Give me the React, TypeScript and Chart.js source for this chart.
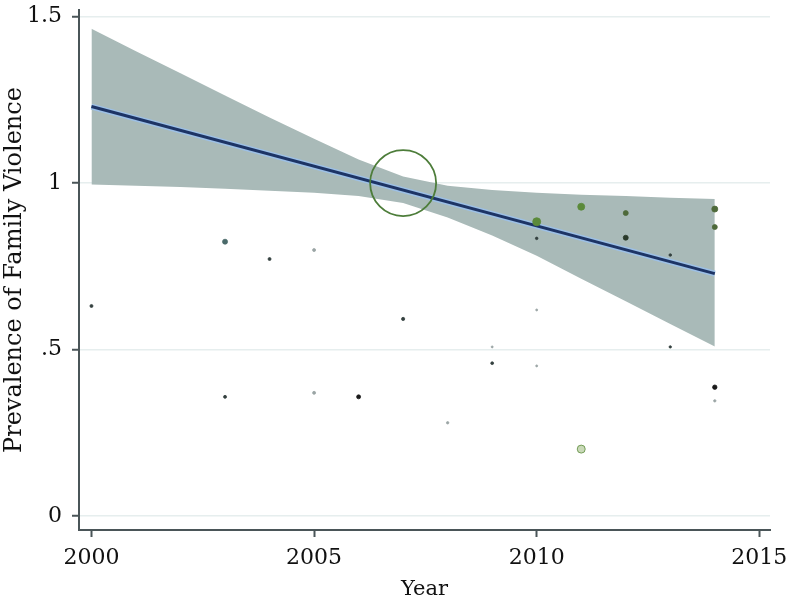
import React, { useEffect, useRef } from "react";
import { Chart, registerables } from "chart.js";

Chart.register(...registerables);

// ---- data ----
const pointYears = [2000, 2003, 2003, 2004, 2005, 2005, 2006, 2007, 2008, 2009, 2009, 2010, 2010, 2010, 2010, 2011, 2011, 2012, 2012, 2013, 2013, 2014, 2014, 2014, 2014];
const pointValues = [0.631, 0.824, 0.358, 0.772, 0.799, 0.37, 0.358, 0.592, 0.28, 0.508, 0.459, 0.884, 0.834, 0.619, 0.451, 0.929, 0.201, 0.91, 0.836, 0.784, 0.508, 0.922, 0.868, 0.387, 0.346];

const bandYears = [2000, 2001, 2002, 2003, 2004, 2005, 2006, 2007, 2008, 2009, 2010, 2011, 2012, 2013, 2014];
const bandUpper = [1.464, 1.396, 1.33, 1.263, 1.197, 1.133, 1.071, 1.02, 0.992, 0.979, 0.971, 0.965, 0.961, 0.956, 0.952];
const bandLower = [0.996, 0.992, 0.988, 0.983, 0.977, 0.971, 0.961, 0.94, 0.897, 0.843, 0.782, 0.713, 0.645, 0.577, 0.509];

const fitYears = [2000, 2014];
const fitValues = [1.23, 0.728];

const circleYears = [2007];
const circleValues = [1.0];

const xTickValues = [2000, 2005, 2010, 2015];
const yTickValues = [0, 0.5, 1, 1.5];
const yTickLabels = ["0", ".5", "1", "1.5"];

// ---- styles (per point) ----
const markerRadius = [1.5, 2.5, 1.5, 1.5, 1.5, 1.5, 2, 1.6, 1.2, 1, 1.4, 4, 1.3, 1, 1, 3.5, 4, 2.5, 2.5, 1.3, 1.2, 3, 2.5, 2.2, 1.2];
const DARK = "#34403f";
const GREEN = "#5b8a3a";
const LIGHT = "#9aa5a5";
const markerColor = [DARK, "#4a6a6a", DARK, DARK, LIGHT, LIGHT, "#1a1a1a", DARK, LIGHT, LIGHT, DARK, GREEN, DARK, LIGHT, LIGHT, GREEN, GREEN, "#4e6a3a", "#2a3a2a", DARK, DARK, "#4e6a3a", "#4e6a3a", "#1a1a1a", LIGHT];
const markerFill = markerColor.map((c, i) => (i === 16 ? "#c9d9b8" : c));

const FONT = "'DejaVu Serif', serif";
const AXIS = "#4a5558";

const tickLabelPlugin = {
  id: "tickLabels",
  afterDraw(chart: any) {
    const ctx = chart.ctx;
    const xs = chart.scales.x;
    const ys = chart.scales.y;
    ctx.save();
    ctx.fillStyle = "#111";
    ctx.font = `22px ${FONT}`;
    ctx.textAlign = "right";
    ctx.textBaseline = "middle";
    yTickValues.forEach((v, i) => {
      ctx.fillText(yTickLabels[i], ys.right - 17, ys.getPixelForValue(v));
    });
    ctx.textAlign = "center";
    xTickValues.forEach((v) => {
      ctx.fillText(String(v), xs.getPixelForValue(v), xs.top + 28);
    });
    ctx.restore();
  },
};

export default function App() {
  const ref = useRef<HTMLCanvasElement | null>(null);

  useEffect(() => {
    if (!ref.current) return;
    const zip = (xs: number[], ys: number[]) => xs.map((x, i) => ({ x, y: ys[i] }));

    const chart = new Chart(ref.current, {
      type: "scatter",
      plugins: [tickLabelPlugin],
      data: {
        datasets: [
          {
            type: "scatter",
            data: zip(circleYears, circleValues),
            pointRadius: 33,
            pointBorderWidth: 1.8,
            borderColor: "#4d7d3a",
            backgroundColor: "rgba(0,0,0,0)",
            order: 1,
          } as any,
          {
            type: "scatter",
            data: zip(pointYears, pointValues),
            pointRadius: markerRadius,
            pointBorderWidth: 0.8,
            borderColor: markerColor,
            backgroundColor: markerFill,
            order: 2,
          } as any,
          {
            type: "line",
            data: zip(fitYears, fitValues),
            borderColor: "#1d3465",
            borderWidth: 3,
            pointRadius: 0,
            fill: false,
            order: 4,
          } as any,
          {
            type: "line",
            data: zip(fitYears, fitValues),
            borderColor: "#9dc0e6",
            borderWidth: 6,
            pointRadius: 0,
            fill: false,
            order: 5,
          } as any,
          {
            type: "line",
            data: zip(bandYears, bandUpper),
            borderColor: "#a9bab8",
            borderWidth: 0,
            backgroundColor: "#a9bab8",
            pointRadius: 0,
            fill: "+1",
            order: 10,
          } as any,
          {
            type: "line",
            data: zip(bandYears, bandLower),
            borderColor: "#a9bab8",
            borderWidth: 0,
            pointRadius: 0,
            fill: false,
            order: 11,
          } as any,
        ],
      },
      options: {
        animation: false,
        responsive: false,
        maintainAspectRatio: false,
        layout: { autoPadding: false, padding: { left: 0, top: 10, right: 24, bottom: 0 } },
        plugins: { legend: { display: false }, tooltip: { enabled: false } },
        scales: {
          x: {
            type: "linear",
            min: 1999.72,
            max: 2015.24,
            afterFit: (s: any) => {
              s.height = 75;
            },
            afterBuildTicks: (s: any) => {
              s.ticks = xTickValues.map((v) => ({ value: v }));
            },
            border: { display: true, color: AXIS, width: 2 },
            grid: { drawOnChartArea: false, drawTicks: true, tickLength: 7, tickColor: AXIS, tickWidth: 2 },
            ticks: { display: false },
            title: {
              display: true,
              text: "Year",
              color: "#111",
              font: { family: FONT, size: 21 },
              padding: { top: 0, bottom: 3 },
            },
          },
          y: {
            type: "linear",
            min: -0.042,
            max: 1.52,
            afterFit: (s: any) => {
              s.width = 79;
            },
            afterBuildTicks: (s: any) => {
              s.ticks = yTickValues.map((v) => ({ value: v }));
            },
            border: { display: true, color: AXIS, width: 2 },
            grid: { drawOnChartArea: true, color: "#e6eeee", lineWidth: 1.5, drawTicks: true, tickLength: 7, tickColor: AXIS, tickWidth: 2 } as any,
            ticks: { display: false },
            title: {
              display: true,
              text: "Prevalence of Family Violence",
              color: "#111",
              font: { family: FONT, size: 24 },
              padding: { top: 0, bottom: 0 },
            },
          },
        },
      } as any,
    });
    return () => chart.destroy();
  }, []);

  return (
    <div style={{ position: "fixed", left: 0, top: 0, width: 794, height: 605, background: "#fff" }}>
      <canvas ref={ref} width={794} height={605} style={{ display: "block", width: 794, height: 605 }} />
    </div>
  );
}
